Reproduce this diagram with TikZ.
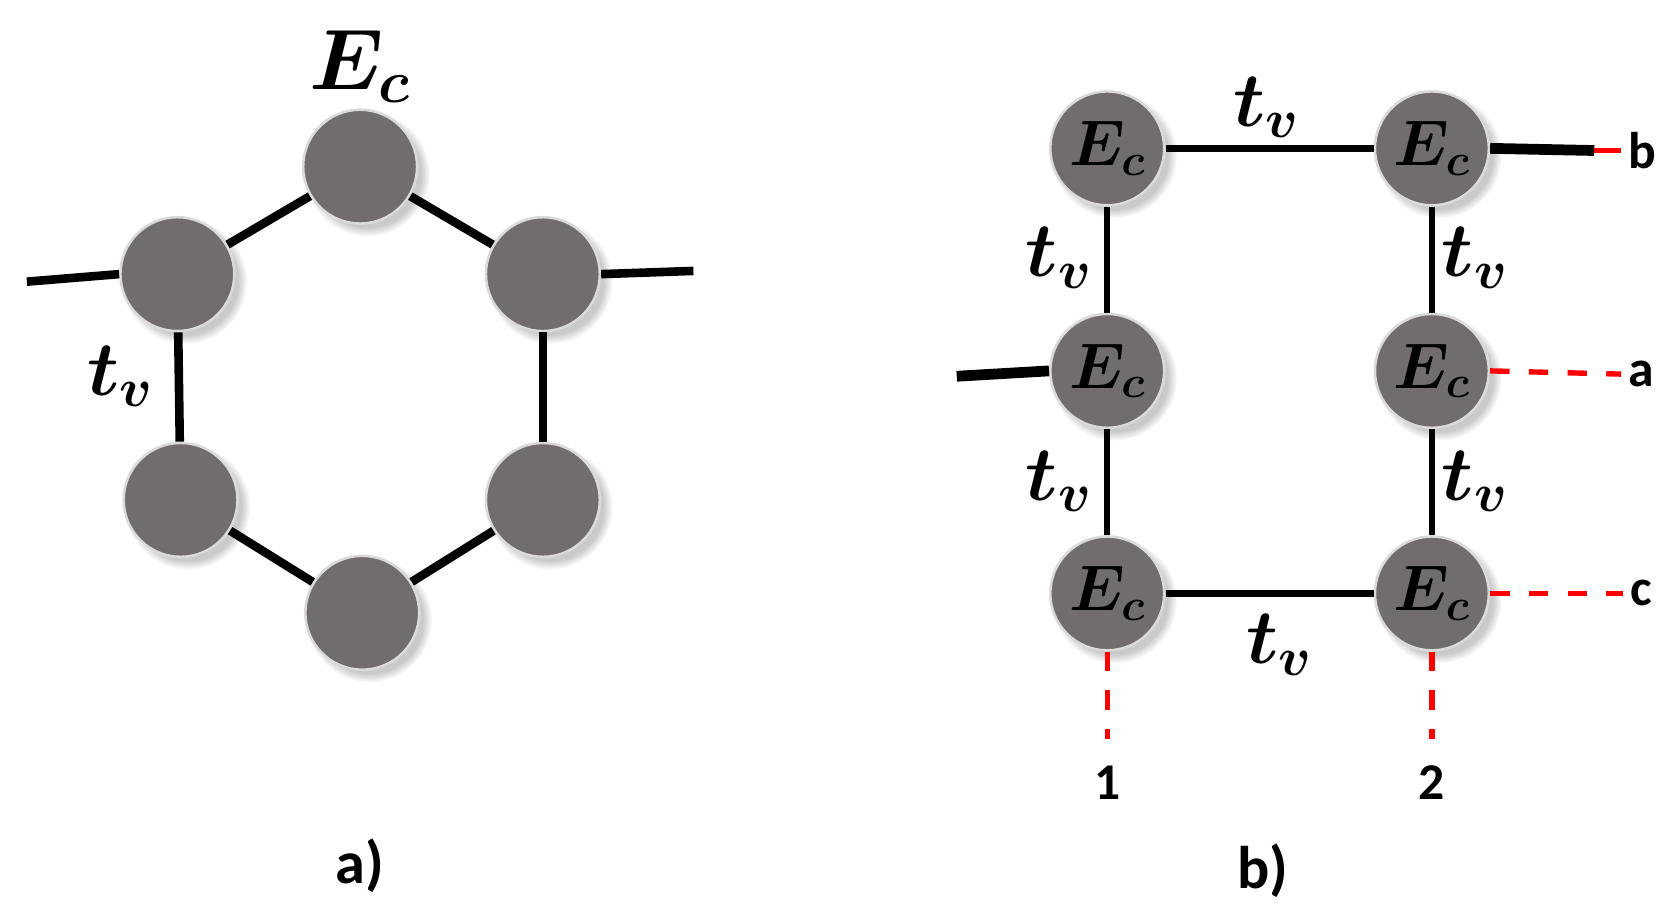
\RequirePackage{fix-cm}
\documentclass[tikz,border=0pt]{standalone}
\usepackage{fontspec}
\setsansfont{Carlito}
\usepackage{amsmath,bm}
\usetikzlibrary{shadows,calc}
\definecolor{ball}{HTML}{716D6D}
\tikzset{
 ball/.style={circle,minimum size=53pt,inner sep=0pt,fill=ball,draw=white!75!ball,line width=1.2pt,
   circular drop shadow={shadow xshift=3pt,shadow yshift=-3pt,opacity=0.35,fill=black!60}},
 bond/.style={line width=4pt,black},
 sbond/.style={line width=3pt,black},
 stub/.style={line width=5pt,black},
 rdash/.style={line width=2.5pt,red,dash pattern=on 9pt off 9pt},
 lab/.style={font=\sffamily\bfseries\fontsize{24}{28}\selectfont},
 tl/.style={font=\fontsize{36}{40}\selectfont},
 ec/.style={font=\fontsize{30}{34}\selectfont}
}
\begin{document}
\begin{tikzpicture}[x=0.5pt,y=-0.5pt]
\useasboundingbox (0,0) rectangle (1560,853);
% panel a
\coordinate (s1) at (25,262);
\coordinate (s2) at (645,252);
\node[ball] (A1) at (335,155) {};
\node[ball] (A2) at (165,255) {};
\node[ball] (A3) at (505,255) {};
\node[ball] (A4) at (168,465) {};
\node[ball] (A5) at (505,465) {};
\node[ball] (A6) at (337,570) {};
\draw[bond] (A1) -- (A2); \draw[bond] (A1) -- (A3);
\draw[bond] (A2) -- (A4); \draw[bond] (A3) -- (A5);
\draw[bond] (A4) -- (A6); \draw[bond] (A5) -- (A6);
\draw[bond] (s1) -- (A2.west); \draw[bond] (A3.east) -- (s2);
\node[tl,font=\fontsize{40}{44}\selectfont] (Eca) at (335,62) {$\bm{E_c}$};
\node[tl] (tva) at (112,350) {$\bm{t_v}$};
\node[lab,font=\sffamily\bfseries\fontsize{28}{32}\selectfont] (la) at (335,805) {a)};
% panel b
\node[ball,ec] (B1) at (1030,138) {$\bm{E_c}$};
\node[ball,ec] (B2) at (1332,138) {$\bm{E_c}$};
\node[ball,ec] (B3) at (1030,345) {$\bm{E_c}$};
\node[ball,ec] (B4) at (1332,345) {$\bm{E_c}$};
\node[ball,ec] (B5) at (1030,552) {$\bm{E_c}$};
\node[ball,ec] (B6) at (1332,552) {$\bm{E_c}$};
\draw[sbond] (B1) -- (B2); \draw[sbond] (B1) -- (B3); \draw[sbond] (B3) -- (B5);
\draw[sbond] (B2) -- (B4); \draw[sbond] (B4) -- (B6); \draw[sbond] (B5) -- (B6);
\coordinate (bs) at (1483,140); \coordinate (bl) at (890,350);
\draw[stub] (B2.east) -- (bs);
\draw[stub] (bl) -- (B3.west);
\node[lab] (lb) at (1528,140) {b};
\node[lab] (laa) at (1527,348) {a};
\node[lab] (lc) at (1527,552) {c};
\node[lab] (l1) at (1030,728) {1};
\node[lab] (l2) at (1332,728) {2};
\draw[red,line width=2.5pt] (bs) -- (lb.west);
\draw[rdash] (B4.east) -- (laa.west);
\draw[rdash] (B6.east) -- (lc.west);
\draw[rdash] (B5.south) -- ($(l1.north)+(0,-18)$);
\draw[rdash] (B6.south) -- ($(l2.north)+(0,-18)$);
\node[tl] at (1178,100) {$\bm{t_v}$};
\node[tl] at (985,240) {$\bm{t_v}$};
\node[tl] at (1372,240) {$\bm{t_v}$};
\node[tl] at (985,448) {$\bm{t_v}$};
\node[tl] at (1372,448) {$\bm{t_v}$};
\node[tl] at (1190,600) {$\bm{t_v}$};
\node[lab,font=\sffamily\bfseries\fontsize{28}{32}\selectfont] (lbb) at (1175,810) {b)};
\end{tikzpicture}
\end{document}
